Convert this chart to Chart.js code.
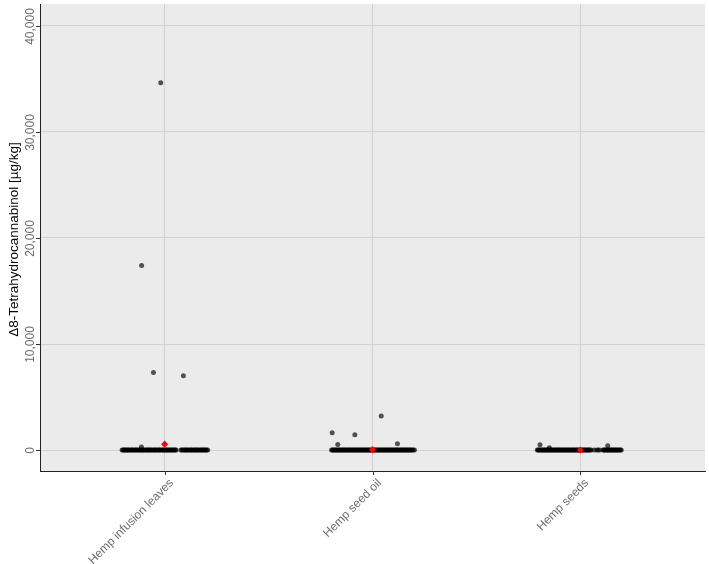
<!DOCTYPE html>
<html>
<head>
<meta charset="utf-8">
<script src="https://cdn.jsdelivr.net/npm/chart.js@4.4.0/dist/chart.umd.min.js"></script>
<style>
html,body{margin:0;padding:0;background:#fff;}
#wrap{width:709px;height:564px;position:relative;}
</style>
</head>
<body>
<div id="wrap"><canvas id="c"></canvas></div>
<script>
// ---- data ----
const categories = ["Hemp infusion leaves", "Hemp seed oil", "Hemp seeds"];
const yTicks = [0, 10000, 20000, 30000, 40000];
const yTitle = "\u03948-Tetrahydrocannabinol [\u00b5g/kg]";

// detected values above zero: value and horizontal jitter (category units)
const leavesValues = [34650, 17400, 7320, 7010, 280];
const leavesJitter = [-0.019, -0.111, -0.054, 0.090, -0.112];
const oilValues = [1625, 530, 1440, 3220, 590];
const oilJitter = [-0.194, -0.167, -0.085, 0.042, 0.120];
const seedsValues = [500, 220, 400];
const seedsJitter = [-0.194, -0.149, 0.132];

// samples at zero (jitter offsets)
const leavesZeroJitter = [-0.205,-0.200,-0.196,-0.192,-0.188,-0.183,-0.179,-0.175,-0.171,-0.165,-0.160,-0.156,-0.152,-0.146,-0.141,-0.137,-0.133,-0.127,-0.122,-0.118,-0.114,-0.109,-0.105,-0.101,-0.097,-0.091,-0.086,-0.082,-0.078,-0.073,-0.069,-0.064,-0.060,-0.054,-0.049,-0.045,-0.041,-0.035,-0.030,-0.026,-0.022,-0.016,-0.011,-0.007,-0.003,0.002,0.006,0.010,0.015,0.019,0.024,0.028,0.033,0.037,0.042,0.046,0.051,0.055,0.078,0.083,0.088,0.094,0.098,0.103,0.107,0.112,0.117,0.123,0.127,0.131,0.136,0.142,0.146,0.151,0.155,0.160,0.165,0.171,0.175,0.180,0.184,0.189,0.193,0.198,0.202,0.207];
const oilZeroJitter = [-0.197,-0.193,-0.189,-0.184,-0.180,-0.176,-0.172,-0.167,-0.163,-0.159,-0.155,-0.150,-0.146,-0.141,-0.137,-0.133,-0.129,-0.124,-0.120,-0.115,-0.111,-0.107,-0.103,-0.098,-0.094,-0.090,-0.086,-0.081,-0.077,-0.072,-0.068,-0.064,-0.060,-0.055,-0.051,-0.047,-0.043,-0.038,-0.034,-0.029,-0.025,-0.021,-0.017,-0.012,-0.008,-0.004,0.001,0.005,0.010,0.014,0.018,0.022,0.027,0.031,0.035,0.040,0.044,0.048,0.053,0.057,0.061,0.066,0.070,0.074,0.078,0.083,0.087,0.091,0.096,0.100,0.104,0.109,0.113,0.117,0.121,0.126,0.130,0.135,0.139,0.143,0.147,0.152,0.156,0.160,0.164,0.169,0.173,0.178,0.182,0.186,0.190,0.196,0.202];
const seedsZeroJitter = [-0.207,-0.203,-0.199,-0.195,-0.190,-0.186,-0.182,-0.177,-0.173,-0.168,-0.164,-0.160,-0.156,-0.151,-0.147,-0.143,-0.139,-0.134,-0.130,-0.125,-0.121,-0.117,-0.113,-0.108,-0.104,-0.100,-0.096,-0.091,-0.087,-0.082,-0.078,-0.074,-0.070,-0.065,-0.061,-0.057,-0.053,-0.048,-0.044,-0.039,-0.035,-0.031,-0.027,-0.022,-0.018,-0.014,-0.010,-0.005,-0.001,0.004,0.008,0.012,0.016,0.021,0.025,0.030,0.034,0.038,0.042,0.047,0.051,0.066,0.079,0.086,0.094,0.110,0.114,0.118,0.123,0.127,0.131,0.136,0.140,0.144,0.148,0.153,0.157,0.161,0.166,0.170,0.174,0.179,0.183,0.188,0.192,0.197];

// mean per category
const means = [560, 40, 10];

// ---- build datasets ----
function pts(catIndex, values, jitter) {
  return values.map((v, i) => ({x: catIndex + 1 + jitter[i], y: v}));
}
function zeroPts(catIndex, jitter) {
  return jitter.map(j => ({x: catIndex + 1 + j, y: 0}));
}
const samplePoints = [].concat(
  zeroPts(0, leavesZeroJitter), pts(0, leavesValues, leavesJitter),
  zeroPts(1, oilZeroJitter), pts(1, oilValues, oilJitter),
  zeroPts(2, seedsZeroJitter), pts(2, seedsValues, seedsJitter)
);
const meanPoints = means.map((m, i) => ({x: i + 1, y: m}));

const FONT = "'Liberation Sans', Arial, sans-serif";

const panelBg = {
  id: 'panelBg',
  beforeDraw(chart) {
    const a = chart.chartArea, ctx = chart.ctx;
    ctx.save();
    ctx.fillStyle = '#ebebeb';
    ctx.fillRect(a.left, a.top, a.right - a.left, a.bottom - a.top);
    ctx.restore();
  }
};

const labels = {
  id: 'labels',
  afterDraw(chart) {
    const ctx = chart.ctx, a = chart.chartArea;
    const xs = chart.scales.x, ys = chart.scales.y;
    ctx.save();
    // y ticks + labels
    ctx.strokeStyle = '#333';
    ctx.lineWidth = 1;
    ctx.fillStyle = '#6b6b6b';
    ctx.font = '12px ' + FONT;
    yTicks.forEach(v => {
      const py = Math.round(ys.getPixelForValue(v)) + 0.5;
      ctx.beginPath(); ctx.moveTo(a.left - 4, py); ctx.lineTo(a.left, py); ctx.stroke();
      ctx.save();
      ctx.translate(a.left - 6, py);
      ctx.rotate(-Math.PI / 2);
      ctx.textAlign = 'center';
      ctx.textBaseline = 'alphabetic';
      ctx.fillText(v.toLocaleString('en-US'), 0, 0);
      ctx.restore();
    });
    // x ticks + labels
    categories.forEach((c, i) => {
      const px = Math.round(xs.getPixelForValue(i + 1)) + 0.5;
      ctx.beginPath(); ctx.moveTo(px, a.bottom); ctx.lineTo(px, a.bottom + 4); ctx.stroke();
      ctx.save();
      ctx.translate(px + 2, a.bottom + 6);
      ctx.rotate(-Math.PI / 4);
      ctx.textAlign = 'right';
      ctx.textBaseline = 'top';
      ctx.fillText(c, 0, 0);
      ctx.restore();
    });
    // y title
    ctx.fillStyle = '#000';
    ctx.font = '13.5px ' + FONT;
    ctx.save();
    ctx.translate(18, (a.top + a.bottom) / 2 + 2);
    ctx.rotate(-Math.PI / 2);
    ctx.textAlign = 'center';
    ctx.textBaseline = 'alphabetic';
    ctx.fillText(yTitle, 0, 0);
    ctx.restore();
    ctx.restore();
  }
};

new Chart(document.getElementById('c'), {
  type: 'scatter',
  data: {
    datasets: [
      {
        label: 'mean',
        data: meanPoints,
        order: 0,
        pointStyle: 'rectRot',
        pointRadius: 3.6,
        backgroundColor: '#ff0000',
        borderColor: '#ff0000',
        borderWidth: 0
      },
      {
        label: 'samples',
        data: samplePoints,
        order: 1,
        pointStyle: 'circle',
        pointRadius: 2.5,
        backgroundColor: 'rgba(0,0,0,0.66)',
        borderWidth: 0
      }
    ]
  },
  options: {
    responsive: true,
    maintainAspectRatio: false,
    animation: false,
    layout: {padding: {left: 40, right: 3, top: 2, bottom: 93}},
    plugins: {legend: {display: false}, tooltip: {enabled: false}},
    scales: {
      x: {
        type: 'linear',
        min: 0.4, max: 3.6,
        afterBuildTicks(s) { s.ticks = categories.map((c, i) => ({value: i + 1})); },
        ticks: {display: false},
        grid: {color: '#d2d2d2', lineWidth: 1, drawTicks: false},
        border: {display: true, color: '#222', width: 1}
      },
      y: {
        type: 'linear',
        min: -1972, max: 42066,
        afterBuildTicks(s) { s.ticks = yTicks.map(v => ({value: v})); },
        ticks: {display: false},
        grid: {color: '#d2d2d2', lineWidth: 1, drawTicks: false},
        border: {display: true, color: '#222', width: 1}
      }
    }
  },
  plugins: [panelBg, labels]
});
</script>
</body>
</html>
